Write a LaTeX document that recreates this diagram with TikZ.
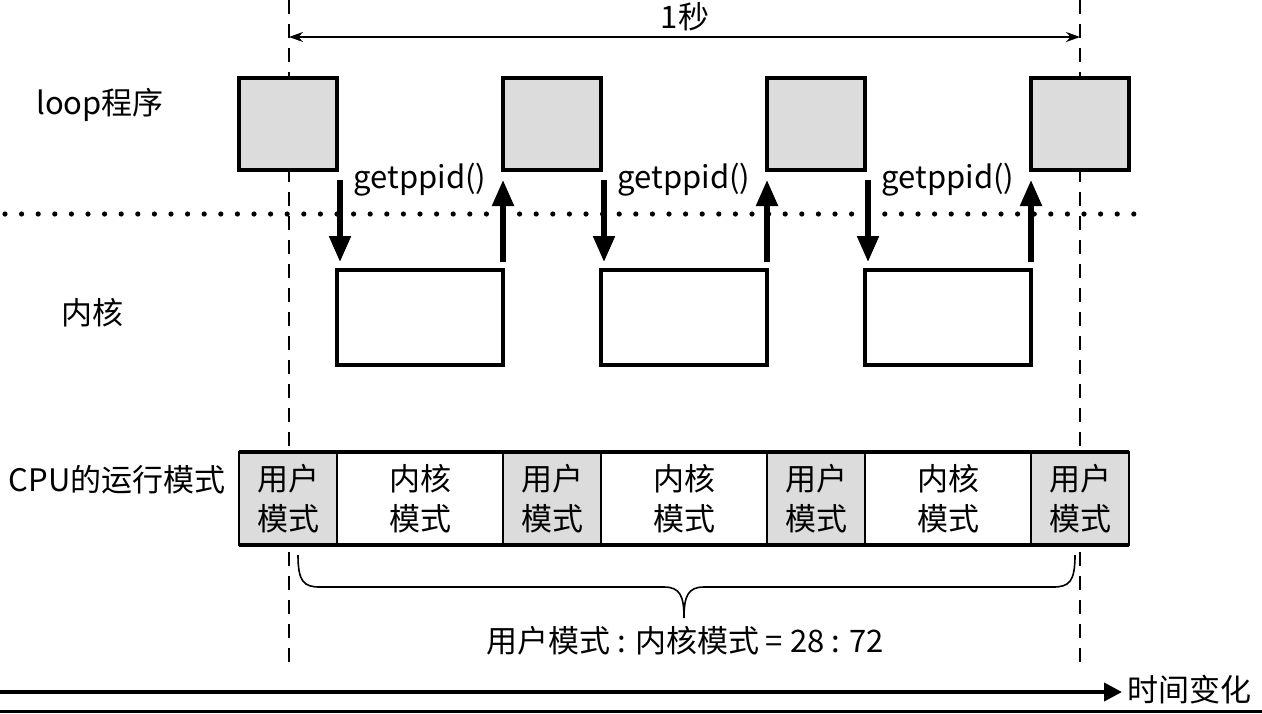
\documentclass[tikz,border=0pt]{standalone}
\usepackage{fontspec}
\setmainfont{Noto Sans CJK SC}
\usetikzlibrary{arrows.meta}
\definecolor{modegray}{HTML}{DCDCDC}
\begin{document}
\begin{tikzpicture}[x=0.5pt,y=-0.5pt,
  txt/.style={inner sep=0pt, font=\fontsize{15.5}{20}\selectfont},
  ubox/.style={draw, line width=1.6pt, fill=modegray, minimum width=49pt, minimum height=46pt, inner sep=0pt, outer sep=0pt},
  kbox/.style={draw, line width=1.6pt, fill=white, minimum width=83pt, minimum height=47.5pt, inner sep=0pt, outer sep=0pt},
  cell/.style={draw, line width=1pt, minimum height=46.5pt, inner sep=0pt, outer sep=0pt, align=center, font=\fontsize{15.5}{20}\selectfont},
  ucell/.style={cell, fill=modegray, minimum width=49pt},
  kcell/.style={cell, fill=white, minimum width=83pt},
  dashline/.style={line width=1pt, dash pattern=on 7pt off 5pt},
  dotline/.style={line width=2.6pt, line cap=round, dash pattern=on 0pt off 8.3pt},
  bigarrow/.style={line width=2.6pt, -{Triangle[length=13pt,width=10.5pt]}},
  spanarrow/.style={line width=0.8pt, {Stealth[length=7pt,width=5pt]}-{Stealth[length=7pt,width=5pt]}},
  timearrow/.style={line width=2pt, -{Triangle[length=9pt,width=9pt]}},
  bracestyle/.style={line width=0.8pt}
]
\useasboundingbox (0,0) rectangle (1262,713);

% dashed guide lines
\coordinate (d1t) at (289,0);
\coordinate (d1b) at (289,667);
\coordinate (d2t) at (1080,0);
\coordinate (d2b) at (1080,667);
\draw[dashline] (d1t) -- (d1b);
\draw[dashline] (d2t) -- (d2b);

% 1 second span
\coordinate (s1) at (289,37);
\coordinate (s2) at (1080,37);
\draw[spanarrow] (s1) -- (s2);
\node[txt] (sec) at (685,17) {1秒};

% row labels
\node[txt] (lloop) at (100,105) {loop程序};
\node[txt] (lkern) at (92,313) {内核};
\node[txt] (lcpu) at (117,480) {CPU的运行模式};

% dotted separator
\coordinate (dotL) at (5,214);
\coordinate (dotR) at (1140,214);
\draw[dotline] (dotL) -- (dotR);

% user-space boxes
\node[ubox] (u1) at (288,124) {};
\node[ubox] (u2) at (552,124) {};
\node[ubox] (u3) at (816,124) {};
\node[ubox] (u4) at (1080,124) {};

% kernel boxes
\node[kbox] (k1) at (420,317.5) {};
\node[kbox] (k2) at (684,317.5) {};
\node[kbox] (k3) at (948,317.5) {};

% getppid labels
\node[txt] (g1) at (420,180) {getppid()};
\node[txt] (g2) at (684,180) {getppid()};
\node[txt] (g3) at (948,180) {getppid()};

% system call arrows
\foreach \u/\k/\n in {u1/k1/u2, u2/k2/u3, u3/k3/u4}{
  \draw[bigarrow] ([xshift=1.5pt,yshift=-5pt]\u.south east) -- ([xshift=1.5pt,yshift=4pt]\u.south east |- \k.north west);
  \draw[bigarrow] ([yshift=4pt]\k.north east) -- ([yshift=-5pt]\k.north east |- \n.south west);
}

% CPU mode row
\node[ucell] (c1) at (288,498.5) {用户\\模式};
\node[kcell] (c2) at (420,498.5) {内核\\模式};
\node[ucell] (c3) at (552,498.5) {用户\\模式};
\node[kcell] (c4) at (684,498.5) {内核\\模式};
\node[ucell] (c5) at (816,498.5) {用户\\模式};
\node[kcell] (c6) at (948,498.5) {内核\\模式};
\node[ucell] (c7) at (1080,498.5) {用户\\模式};
\draw[line width=2.2pt] (c1.north west) -- (c7.north east);
\draw[line width=2.2pt] (c1.south west) -- (c7.south east);

% brace
\draw[bracestyle] (298,555) .. controls (298,582) and (304,587) .. (320,587)
  -- (664,587) .. controls (680,587) and (684,596) .. (684,618)
  .. controls (684,596) and (688,587) .. (704,587)
  -- (1053,587) .. controls (1069,587) and (1075,582) .. (1075,555);
\node[txt] (ratio) at (685,641) {用户模式 : 内核模式 = 28 : 72};

% time axis
\coordinate (t0) at (0,692);
\coordinate (t1) at (1122,692);
\draw[timearrow] (t0) -- (t1);
\node[txt, anchor=west] (time) at (1127,690) {时间变化};

% bottom rule
\coordinate (b0) at (0,711);
\coordinate (b1) at (1262,711);
\draw[line width=1.5pt] (b0) -- (b1);
\end{tikzpicture}
\end{document}
